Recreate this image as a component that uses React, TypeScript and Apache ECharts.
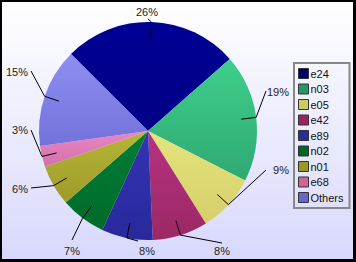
import React, { useEffect, useRef } from "react";
import * as echarts from "echarts";

const categories = ["e24", "n03", "e05", "e42", "e89", "n02", "n01", "e68", "Others"];
const values = [26, 19, 8.6, 8.2, 7.6, 6.7, 6.1, 3.1, 14.7];

const sliceTop = ["#000094", "#3fcf8c", "#e4e47c", "#b63282", "#3434b6", "#007e36", "#b6b636", "#ea86c6", "#8e8ef2"];
const sliceBottom = ["#000086", "#2ea972", "#d6cf6a", "#9c2864", "#28289a", "#006a2a", "#a09a2a", "#d272a8", "#7272da"];
const swatch = ["#000070", "#229966", "#cccc66", "#992266", "#2c2c99", "#006628", "#999922", "#cc6699", "#6666cc"];

// label layout (style): leader-line end offset and text anchor offset from pie centre, text align
const CX = 146;
const CY = 129;
const R = 109;
const lineEnd = [[0, -112], [118, -40], [118, 39], [74, 112], [-10, 110], [-76, 109], [-117, 57], [-117, -1], [-117, -60]];
const textPos = [[-1, -119], [141, -39], [141, 39], [74, 119.5], [-1, 119.5], [-76, 119.5], [-120, 58], [-120, -1], [-120, -59]];
const textAlign = ["center", "right", "right", "center", "center", "center", "right", "right", "right"];

const FONT = "'Liberation Sans', Arial, sans-serif";

export default function App() {
  const ref = useRef<HTMLDivElement>(null);
  useEffect(() => {
    if (!ref.current) return;
    const chart = echarts.init(ref.current, undefined, { renderer: "svg" });
    const data = categories.map((name, i) => ({
      name,
      value: values[i],
      itemStyle: {
        color: new echarts.graphic.LinearGradient(0, 0, 0, 1, [
          { offset: 0, color: sliceTop[i] },
          { offset: 1, color: sliceBottom[i] },
        ]),
      },
    }));
    const ghost = categories.map((name, i) => ({ name, value: values[i] }));
    chart.setOption({
      animation: false,
      backgroundColor: new echarts.graphic.LinearGradient(0, 0, 0, 1, [
        { offset: 0, color: "#ffffff" },
        { offset: 1, color: "#d8d8fd" },
      ]),
      textStyle: { fontFamily: FONT },
      legend: {
        orient: "vertical",
        left: 292,
        top: 61,
        itemWidth: 10,
        itemHeight: 10,
        itemGap: 4.5,
        padding: [5, 6, 5, 4],
        borderColor: "#888888",
        borderWidth: 2,
        icon: "rect",
        textStyle: { fontSize: 11, color: "#111", fontFamily: FONT, padding: [0, 0, 0, -3] },
        data: categories.map((name, i) => ({
          name,
          itemStyle: { color: swatch[i], borderColor: "#333", borderWidth: 1 },
        })),
      },
      series: [
        {
          type: "pie",
          z: 2,
          center: [CX, CY],
          radius: R,
          startAngle: 135,
          clockwise: true,
          data,
          label: { show: false },
          labelLine: { show: false },
          silent: true,
        },
        {
          type: "pie",
          z: 5,
          center: [CX, CY],
          radius: 94,
          startAngle: 135,
          clockwise: true,
          data: ghost,
          itemStyle: { color: "rgba(0,0,0,0)" },
          silent: true,
          legendHoverLink: false,
          avoidLabelOverlap: false,
          label: {
            show: true,
            position: "outside",
            overflow: "none",
            fontSize: 11,
            color: "#222",
            fontFamily: FONT,
            formatter: (p: any) => Math.round(p.value) + "%",
          },
          labelLine: {
            show: true,
            length: 15,
            length2: 0,
            lineStyle: { color: "#000", width: 1 },
          },
          labelLayout: (p: any) => {
            const i = p.dataIndex;
            const pts = p.labelLinePoints || [];
            const end = [CX + lineEnd[i][0], CY + lineEnd[i][1]];
            const out: any = {
              x: CX + textPos[i][0],
              y: CY + textPos[i][1],
              align: textAlign[i],
              verticalAlign: "middle",
            };
            if (pts.length >= 2) out.labelLinePoints = [pts[0], pts[1], end];
            return out;
          },
        },
      ],
    });
    return () => chart.dispose();
  }, []);
  return (
    <div style={{ position: "absolute", left: 0, top: 0, width: 356, height: 262, background: "#000" }}>
      <div ref={ref} style={{ position: "absolute", left: 2, top: 2, width: 351, height: 257 }} />
    </div>
  );
}
